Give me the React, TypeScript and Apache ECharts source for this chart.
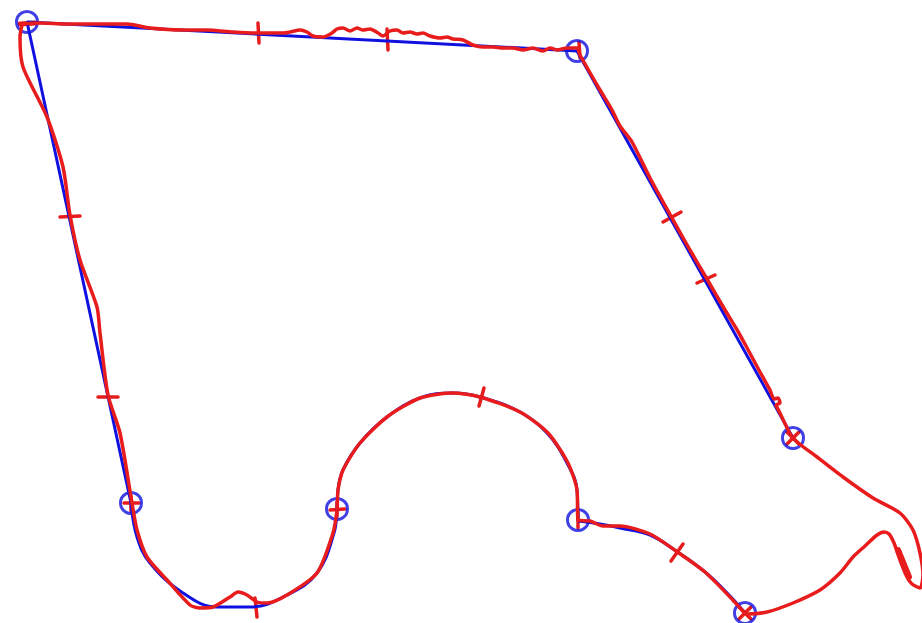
import React, { useEffect, useRef } from "react";
import * as echarts from "echarts";

// Reference (planned) path, blue
const blueStraight: number[][] = [
  [131, 503], [27, 22], [577, 51], [793, 438],
];
const blueCurveA: number[][] = [
  [745, 613], [730, 596], [705, 572], [676, 551], [650, 535], [620, 528], [600, 524], [578, 521],
];
const blueCurveB: number[][] = [
  [578, 521], [577, 490], [567, 463], [547, 433], [520, 412], [480, 397], [453, 393], [420, 398],
  [387, 417], [360, 443], [343, 470], [338, 490], [337, 509], [334, 533], [317, 573], [287, 595],
  [250, 607], [217, 607], [183, 593], [150, 563], [137, 537], [131, 503],
];

// Waypoints (blue circles)
const waypoints: number[][] = [
  [27, 22], [577, 51], [793, 438], [745, 613], [578, 520], [337, 509], [131, 503],
];

// Actual (driven) path, red
const redPath: number[][] = [
  [22, 24], [40, 23], [67, 24], [93, 24], [110, 24], [127, 24], [150, 28], [183, 30], [207, 30],
  [233, 32], [258, 33], [283, 33], [290, 32], [300, 30], [307, 32], [313, 36], [323, 37], [332, 33],
  [337, 29], [343, 28], [350, 31], [357, 28], [363, 30], [370, 29], [378, 33], [383, 36], [390, 31],
  [397, 30], [403, 33], [410, 32], [417, 34], [423, 33], [430, 36], [440, 38], [447, 37], [453, 39],
  [463, 40], [473, 45], [483, 47], [493, 47], [503, 48], [513, 48], [523, 50], [533, 48], [543, 51],
  [550, 48], [557, 50], [567, 48], [577, 48], [580, 55], [600, 90], [612, 110], [620, 126],
  [632, 142], [650, 178], [672, 218], [690, 250], [707, 279], [725, 310], [736, 328], [746, 346],
  [760, 372], [770, 390], [774, 399], [778, 398], [780, 403], [776, 405], [779, 411], [793, 438],
  [817, 457], [843, 477], [873, 498], [900, 513], [913, 530], [920, 553], [923, 575], [920, 588],
  [912, 584], [907, 577], [900, 560], [894, 543], [889, 534], [884, 532], [877, 535], [865, 546],
  [853, 557], [840, 573], [820, 590], [793, 603], [767, 612], [748, 614], [745, 613], [730, 597],
  [705, 572], [676, 551], [650, 534], [620, 526], [603, 526], [590, 521], [578, 520], [577, 490],
  [568, 463], [548, 433], [520, 412], [480, 397], [453, 393], [420, 398], [387, 417], [360, 443],
  [343, 470], [338, 490], [337, 510], [333, 533], [317, 573], [287, 595], [267, 603], [257, 602],
  [247, 595], [238, 592], [230, 597], [213, 607], [200, 608], [190, 605], [167, 580], [147, 557],
  [137, 530], [132, 503], [120, 433], [108, 395], [100, 333], [97, 307], [80, 260], [70, 215],
  [63, 167], [47, 117], [23, 67], [20, 37], [22, 25],
];

// Red marks: [x1, y1, x2, y2, width]
const redMarks: number[][] = [
  [258, 23, 259, 43, 3.5], [387, 29, 388, 50, 3.5],
  [663, 222, 681, 212, 3.5], [697, 283, 715, 275, 3.5],
  [479, 406, 484, 388, 3.5], [671, 561, 683, 544, 3.5],
  [255, 598, 257, 617, 3.5], [60, 217, 80, 216, 3.5], [98, 397, 118, 397, 3.5],
  [898, 550, 909, 577, 6],
  [20, 24, 35, 23, 5], [579, 42, 580, 58, 3.5],
  [787, 432, 799, 444, 3.5], [799, 432, 787, 444, 3.5],
  [739, 607, 751, 619, 3.5], [751, 607, 739, 619, 3.5],
  [578, 512, 578, 528, 3.5],
  [330, 510, 345, 509, 3.5], [337, 502, 337, 517, 3.5],
  [124, 503, 139, 503, 3.5], [131, 496, 131, 511, 3.5],
];

const BLUE = "#1010e0";
const RED = "#e81c1c";

export default function App() {
  const ref = useRef<HTMLDivElement>(null);
  useEffect(() => {
    if (!ref.current) return;
    const chart = echarts.init(ref.current, undefined, { renderer: "svg" });
    const lineBase = {
      type: "line" as const,
      showSymbol: false,
      symbol: "none",
      silent: true,
    };
    chart.setOption({
      animation: false,
      backgroundColor: "#ffffff",
      grid: { left: 0, right: 0, top: 0, bottom: 0 },
      xAxis: { type: "value", min: 0, max: 922, show: false },
      yAxis: { type: "value", min: 0, max: 623, inverse: true, show: false },
      series: [
        { ...lineBase, data: blueStraight, lineStyle: { color: BLUE, width: 3 } },
        { ...lineBase, data: blueCurveA, smooth: 0.4, lineStyle: { color: BLUE, width: 3 } },
        { ...lineBase, data: blueCurveB, smooth: 0.4, lineStyle: { color: BLUE, width: 3 } },
        { ...lineBase, data: redPath, smooth: 0.25, lineStyle: { color: RED, width: 3.5 } },
        {
          type: "scatter",
          data: waypoints,
          symbol: "circle",
          symbolSize: 21,
          silent: true,
          itemStyle: { color: "rgba(0,0,0,0)", borderColor: BLUE, borderWidth: 3 },
        },
        {
          type: "custom",
          data: redMarks,
          silent: true,
          renderItem: (_p: any, api: any) => {
            const a = api.coord([api.value(0), api.value(1)]);
            const b = api.coord([api.value(2), api.value(3)]);
            return {
              type: "line",
              shape: { x1: a[0], y1: a[1], x2: b[0], y2: b[1] },
              style: { stroke: RED, lineWidth: api.value(4), lineCap: "round" },
            };
          },
        },
      ],
    });
    return () => chart.dispose();
  }, []);
  return (
    <div
      ref={ref}
      style={{ position: "fixed", left: 0, top: 0, width: 922, height: 623, background: "#fff" }}
    />
  );
}
